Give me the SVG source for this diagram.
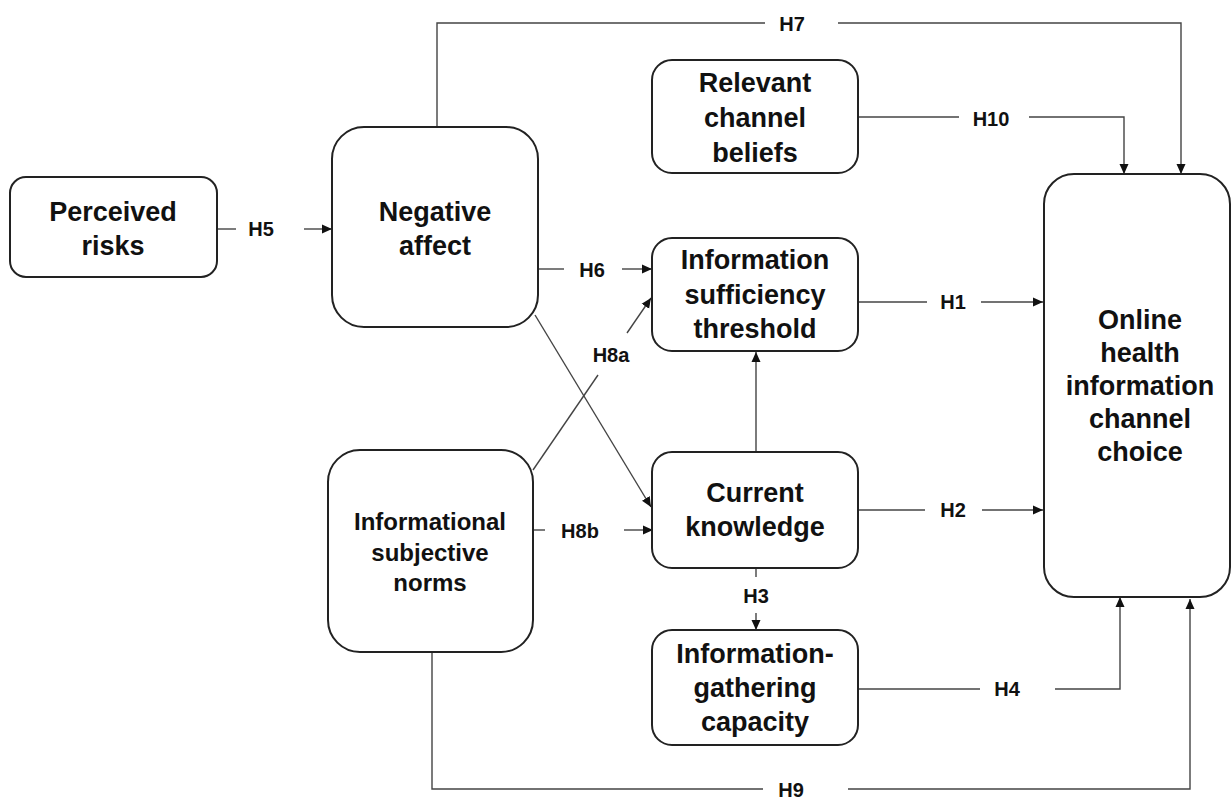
<svg xmlns="http://www.w3.org/2000/svg" width="1232" height="799" viewBox="0 0 1232 799">
<style>
.box{fill:#fff;stroke:#222;stroke-width:2}
.t{font-family:"Liberation Sans",Arial,sans-serif;font-weight:bold;font-size:27px;fill:#111;text-anchor:middle}
.ts{font-size:24px}
.lb{font-family:"Liberation Sans",Arial,sans-serif;font-weight:bold;font-size:20px;fill:#111;text-anchor:middle}
.c{fill:none;stroke:#444;stroke-width:1.4}
.a{marker-end:url(#arr)}
</style>
<defs>
<marker id="arr" markerUnits="userSpaceOnUse" markerWidth="10" markerHeight="10" viewBox="0 0 10 10" refX="10" refY="5" orient="auto">
<path d="M0,0.5 L10,5 L0,9.5 z" fill="#111"/>
</marker>
</defs>
<rect width="1232" height="799" fill="#fff"/>
<g id="connectors">
<path class="c" d="M217,229 H236"/><path class="c a" d="M304,229 H332"/>
<text class="lb" x="261" y="236">H5</text>
<path class="c" d="M538,269 H564"/><path class="c a" d="M622,269 H652"/>
<text class="lb" x="592" y="277">H6</text>
<path class="c" d="M437,127 V23 H765"/><path class="c a" d="M838,23 H1181 V174"/>
<text class="lb" x="792" y="31">H7</text>
<path class="c" d="M858,117 H959"/><path class="c a" d="M1029,117 H1124 V174"/>
<text class="lb" x="991" y="126">H10</text>
<path class="c" d="M858,302 H927"/><path class="c a" d="M981,302 H1043"/>
<text class="lb" x="953" y="309">H1</text>
<path class="c" d="M858,510 H925"/><path class="c a" d="M982,510 H1043"/>
<text class="lb" x="953" y="517">H2</text>
<path class="c" d="M756,568 V577"/><path class="c a" d="M756,613 V630"/>
<text class="lb" x="756" y="603">H3</text>
<path class="c a" d="M756,452 V352"/>
<path class="c" d="M858,689 H980"/><path class="c a" d="M1055,689 H1120 V597"/>
<text class="lb" x="1007" y="696">H4</text>
<path class="c" d="M432,652 V789 H763"/><path class="c a" d="M848,789 H1190 V599"/>
<text class="lb" x="791" y="797">H9</text>
<path class="c" d="M533,470 L598,375"/><path class="c a" d="M627,333 L651,298"/>
<text class="lb" x="611" y="362">H8a</text>
<path class="c" d="M533,530 H545"/><path class="c a" d="M624,530 H653"/>
<text class="lb" x="580" y="538">H8b</text>
<path class="c a" d="M535,315 L651,507"/>
</g>
<g id="perceived-risks">
<rect class="box" x="10" y="177" width="207" height="100" rx="16"/>
<text class="t" x="113" y="221">Perceived</text>
<text class="t" x="113" y="255">risks</text>
</g>
<g id="negative-affect">
<rect class="box" x="332" y="127" width="206" height="200" rx="32"/>
<text class="t" x="435" y="221">Negative</text>
<text class="t" x="435" y="255">affect</text>
</g>
<g id="relevant-channel-beliefs">
<rect class="box" x="652" y="60" width="206" height="113" rx="20"/>
<text class="t" x="755" y="92">Relevant</text>
<text class="t" x="755" y="127">channel</text>
<text class="t" x="755" y="162">beliefs</text>
</g>
<g id="information-sufficiency-threshold">
<rect class="box" x="652" y="238" width="206" height="113" rx="20"/>
<text class="t" x="755" y="269">Information</text>
<text class="t" x="755" y="304">sufficiency</text>
<text class="t" x="755" y="338">threshold</text>
</g>
<g id="online-health-information-channel-choice">
<rect class="box" x="1044" y="174" width="186" height="423" rx="30"/>
<text class="t" x="1140" y="329">Online</text>
<text class="t" x="1140" y="362">health</text>
<text class="t" x="1140" y="395">information</text>
<text class="t" x="1140" y="428">channel</text>
<text class="t" x="1140" y="461">choice</text>
</g>
<g id="informational-subjective-norms">
<rect class="box" x="328" y="450" width="205" height="202" rx="32"/>
<text class="t ts" x="430" y="530">Informational</text>
<text class="t ts" x="430" y="561">subjective</text>
<text class="t ts" x="430" y="591">norms</text>
</g>
<g id="current-knowledge">
<rect class="box" x="652" y="452" width="206" height="116" rx="20"/>
<text class="t" x="755" y="502">Current</text>
<text class="t" x="755" y="536">knowledge</text>
</g>
<g id="information-gathering-capacity">
<rect class="box" x="652" y="630" width="206" height="115" rx="20"/>
<text class="t" x="755" y="663">Information-</text>
<text class="t" x="755" y="697">gathering</text>
<text class="t" x="755" y="731">capacity</text>
</g>
</svg>
